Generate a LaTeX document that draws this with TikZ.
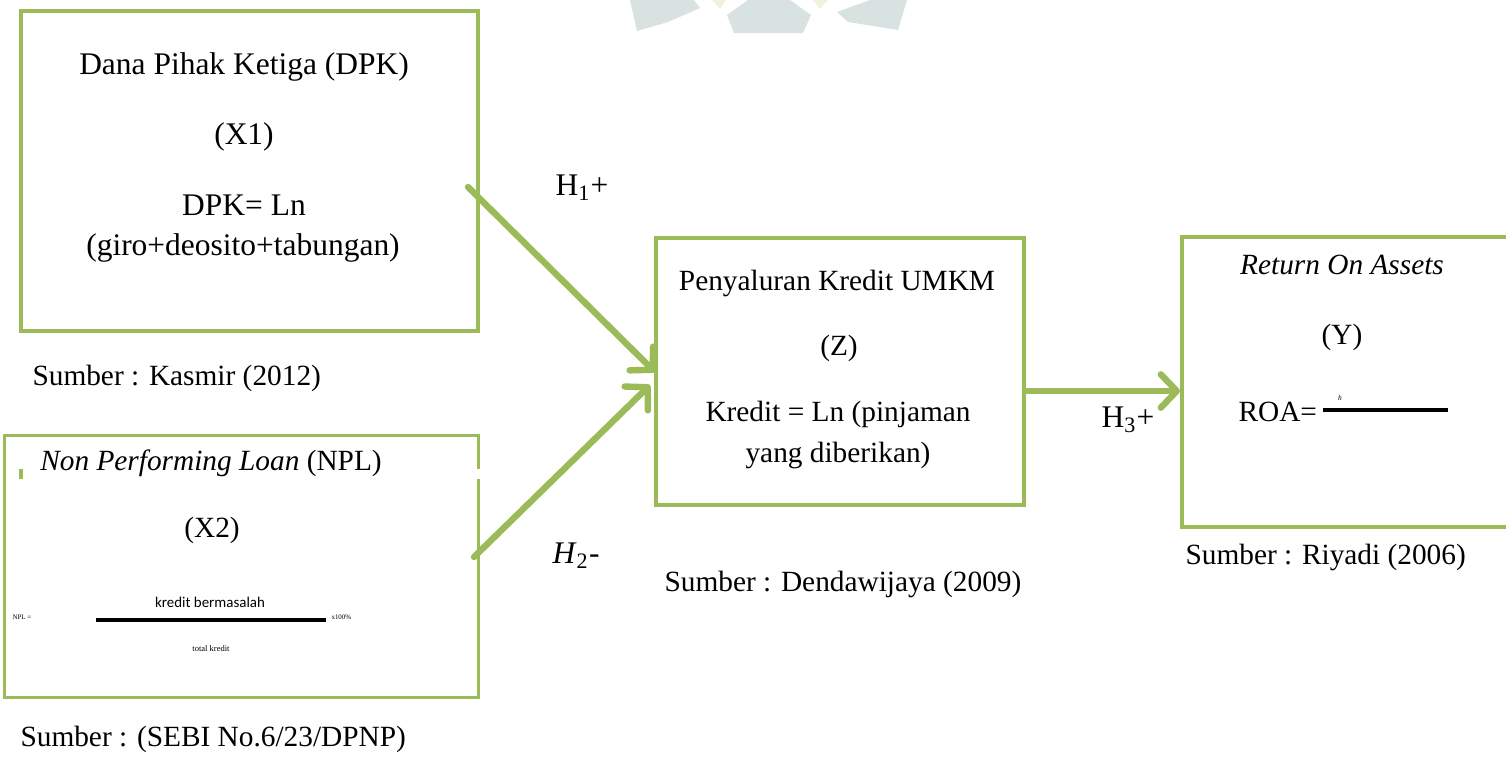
\documentclass[tikz,border=0pt]{standalone}
\usepackage{fontspec}
\setmainfont{Liberation Serif}
\newfontfamily\calib{Carlito}
\usetikzlibrary{arrows.meta,calc}
\definecolor{grn}{HTML}{9BBB59}
\definecolor{wm}{HTML}{D8E2E0}
\definecolor{wmy}{HTML}{F0F3DC}
\begin{document}
\begin{tikzpicture}[x=0.375pt,y=-0.375pt,
  box/.style={draw=grn,line width=1.35pt,inner sep=0},
  edge/.style={draw=grn,line width=1.35pt},
  txt/.style={font=\fontsize{11}{13}\selectfont,inner sep=0},
  txtb/.style={font=\fontsize{11.8}{14}\selectfont,inner sep=0},
  src/.style={font=\fontsize{11}{13}\selectfont,inner sep=0,anchor=west},
  tiny/.style={font=\fontsize{2.6}{3}\selectfont,inner sep=0},
  conn/.style={draw=grn,line width=2.4pt,line cap=round,-{Straight Barb[length=6pt,width=12.5pt,line width=2.4pt,round]}},
]
\useasboundingbox (0,0) rectangle (1506,763);
% faint watermark
\fill[wm] (630,0) -- (694,0) -- (700,8) -- (668,22) -- (637,31) -- cycle;
\fill[wm] (727,15) -- (748,0) -- (790,0) -- (811,15) -- (803,33) -- (734,33) -- cycle;
\fill[wm] (837,12) -- (870,0) -- (907,0) -- (898,30) -- (848,22) -- cycle;
\fill[wmy] (712,0) -- (726,0) -- (720,9) -- cycle;
\fill[wmy] (813,0) -- (828,0) -- (820,9) -- cycle;

% boxes
\node[box,minimum width=171.4pt,minimum height=120pt] (x1) at (249.5,171) {};
\node[box,minimum width=138pt,minimum height=100.1pt] (z) at (840,371.5) {};
\node[box,minimum width=123.75pt,minimum height=108.75pt] (y) at (1347,382) {};
\node[inner sep=0,minimum width=177.4pt,minimum height=97.9pt] (x2) at (241.5,566.5) {};
\draw[edge] ($(x2.north east)+(0,34)$) -- (x2.north east) -- (x2.north west) -- (x2.south west) -- (x2.south east) -- ($(x2.north east)+(0,44)$);
\draw[edge,line width=1.5pt] (21,469) -- (21,479);

% box 1 text
\node[txtb] (x1a) at (244,67) {Dana Pihak Ketiga (DPK)};
\node[txtb] (x1b) at (244,137) {(X1)};
\node[txtb] (x1c) at (244,205) {DPK= Ln};
\node[txtb] (x1d) at (243,248) {(giro+deosito+tabungan)};
\node[src] (s1) at (32,378) {Sumber : Kasmir (2012)};

% box 2 text
\node[txt] (x2a) at (211,463) {\textit{Non Performing Loan} (NPL)};
\node[txt] (x2b) at (212,530) {(X2)};
\node[inner sep=0,font=\calib\fontsize{5.6}{6}\selectfont] (x2c) at (210,602) {kredit bermasalah};
\draw[line width=1.15pt] (96,620) -- (326,620);
\node[tiny,anchor=west] (x2d) at (12,617) {NPL =};
\node[tiny,anchor=west] (x2e) at (331,617) {x100\%};
\node[inner sep=0,font=\fontsize{3.2}{4}\selectfont] (x2f) at (211,649) {total kredit};
\node[src] (s2) at (20,739) {Sumber : (SEBI No.6/23/DPNP)};

% box Z text
\node[txt] (za) at (837,283) {Penyaluran Kredit UMKM};
\node[txt] (zb) at (839,348) {(Z)};
\node[txt] (zc) at (838,414) {Kredit = Ln (pinjaman};
\node[txt] (zd) at (838,455) {yang diberikan)};
\node[src] (s3) at (664,584) {Sumber : Dendawijaya (2009)};

% box Y text
\node[txt] (ya) at (1342,265) {\textit{Return On Assets}};
\node[txt] (yb) at (1342,337) {(Y)};
\node[txt,anchor=west] (yc) at (1238,412) {ROA=};
\draw[line width=1.15pt] (1323,410) -- (1448,410);
\node[tiny,font=\itshape\fontsize{2.8}{3}\selectfont] (yh) at (1340,398) {h};
\node[src] (s4) at (1185,557) {Sumber : Riyadi (2006)};

% connectors
\coordinate (a1) at (468,187);
\coordinate (b1) at (655,372);
\coordinate (a2) at (474,557);
\coordinate (b2) at (650,385);
\coordinate (a3) at (1025,391);
\coordinate (b3) at (1180,391);
\draw[conn] (a1) -- (b1);
\draw[conn] (a2) -- (b2);
\draw[conn] (a3) -- (b3);

% hypothesis labels
\node[txtb] (h1) at (582,188) {H\textsubscript{1}+};
\node[txtb] (h2) at (576,556) {\textit{H}\textsubscript{2}-};
\node[txtb] (h3) at (1128,420) {H\textsubscript{3}+};
\end{tikzpicture}
\end{document}
